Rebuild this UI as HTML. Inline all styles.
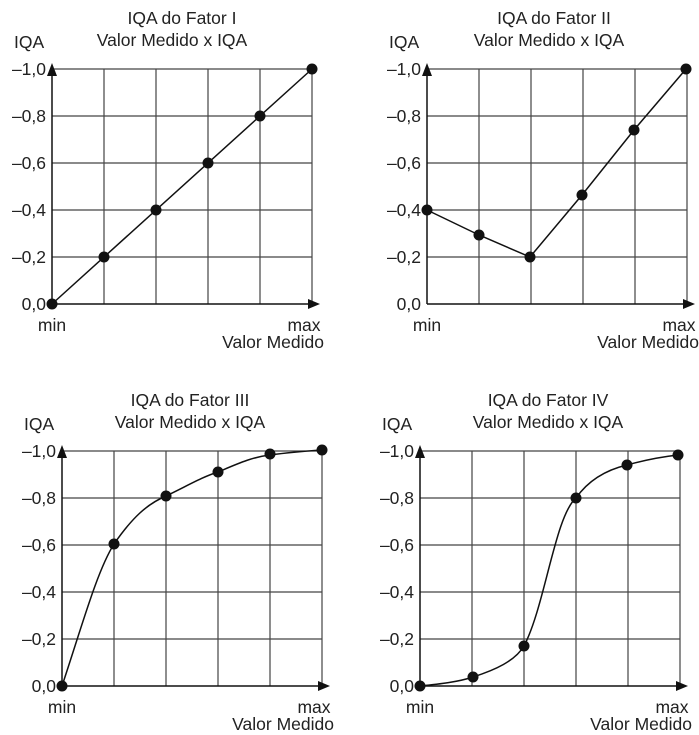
<!DOCTYPE html>
<html><head><style>body{margin:0;background:#fff}svg{display:block}text{font-family:"Liberation Sans",Arial,sans-serif;font-size:17.5px;fill:#222}</style></head>
<body>
<svg width="699" height="735" viewBox="0 0 699 735" xmlns="http://www.w3.org/2000/svg">
<defs>
<g id="grid" stroke="#444" stroke-width="1.2" fill="none">
<path d="M52 0V-235M104 0V-235M156 0V-235M208 0V-235M260 0V-235"/>
<path d="M0 -47H260M0 -94H260M0 -141H260M0 -188H260M0 -235H260"/>
<path d="M0 0V-238M0 0H262" stroke="#111" stroke-width="1.5"/>
<path d="M-5 -228L0 -241L5 -228Z M256 -5L268 0L256 5Z" fill="#111" stroke="none"/>
</g>
<g id="lab">
<text x="-6" y="6" text-anchor="end">0,0</text>
<text x="-6" y="-41" text-anchor="end">–0,2</text>
<text x="-6" y="-88" text-anchor="end">–0,4</text>
<text x="-6" y="-135" text-anchor="end">–0,6</text>
<text x="-6" y="-182" text-anchor="end">–0,8</text>
<text x="-6" y="-229" text-anchor="end">–1,0</text>
<text x="-38" y="-256">IQA</text>
<text x="0" y="27" text-anchor="middle">min</text>
<text x="252" y="27" text-anchor="middle">max</text>
<text x="272" y="44" text-anchor="end">Valor Medido</text>
</g>
</defs>
<g transform="translate(52,304)">
<use href="#grid"/><use href="#lab"/>
<text x="130" y="-280" text-anchor="middle">IQA do Fator I</text>
<text x="120" y="-258" text-anchor="middle">Valor Medido x IQA</text>
<path d="M0 0L260 -235" stroke="#111" stroke-width="1.5" fill="none"/>
<g fill="#111"><circle cx="0" cy="0" r="5.5"/><circle cx="52" cy="-47" r="5.5"/><circle cx="104" cy="-94" r="5.5"/><circle cx="156" cy="-141" r="5.5"/><circle cx="208" cy="-188" r="5.5"/><circle cx="260" cy="-235" r="5.5"/></g>
</g>
<g transform="translate(427,304)">
<use href="#grid"/><use href="#lab"/>
<text x="127" y="-280" text-anchor="middle">IQA do Fator II</text>
<text x="122" y="-258" text-anchor="middle">Valor Medido x IQA</text>
<path d="M0 -94L52 -69L103 -47L155 -109L207 -174L259 -235" stroke="#111" stroke-width="1.5" fill="none"/>
<g fill="#111"><circle cx="0" cy="-94" r="5.5"/><circle cx="52" cy="-69" r="5.5"/><circle cx="103" cy="-47" r="5.5"/><circle cx="155" cy="-109" r="5.5"/><circle cx="207" cy="-174" r="5.5"/><circle cx="259" cy="-235" r="5.5"/></g>
</g>
<g transform="translate(62,686)">
<use href="#grid"/><use href="#lab"/>
<text x="128" y="-280" text-anchor="middle">IQA do Fator III</text>
<text x="128" y="-258" text-anchor="middle">Valor Medido x IQA</text>
<path d="M0 0C20 -60 35 -115 52 -142C70 -168 85 -182 104 -190C125 -200 140 -209 156 -214C175 -222 190 -229 208 -231C230 -234 245 -235 260 -236" stroke="#111" stroke-width="1.5" fill="none"/>
<g fill="#111"><circle cx="0" cy="0" r="5.5"/><circle cx="52" cy="-142" r="5.5"/><circle cx="104" cy="-190" r="5.5"/><circle cx="156" cy="-214" r="5.5"/><circle cx="208" cy="-232" r="5.5"/><circle cx="260" cy="-236" r="5.5"/></g>
</g>
<g transform="translate(420,686)">
<use href="#grid"/><use href="#lab"/>
<text x="128" y="-280" text-anchor="middle">IQA do Fator IV</text>
<text x="128" y="-258" text-anchor="middle">Valor Medido x IQA</text>
<path d="M0 0C20 -2 38 -4 53 -9C75 -16 95 -25 104 -40C125 -80 135 -170 156 -188C170 -208 190 -217 207 -221C225 -226 240 -229 258 -231" stroke="#111" stroke-width="1.5" fill="none"/>
<g fill="#111"><circle cx="0" cy="0" r="5.5"/><circle cx="53" cy="-9" r="5.5"/><circle cx="104" cy="-40" r="5.5"/><circle cx="156" cy="-188" r="5.5"/><circle cx="207" cy="-221" r="5.5"/><circle cx="258" cy="-231" r="5.5"/></g>
</g>
</svg>
</body></html>
